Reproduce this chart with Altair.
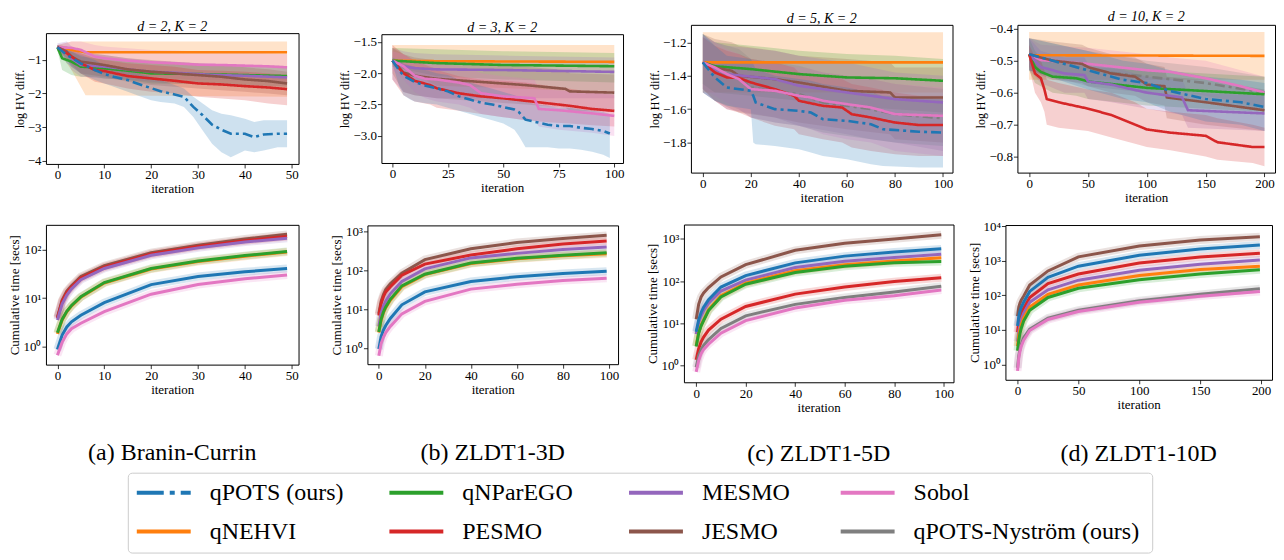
import altair as alt
import pandas as pd

FONT = "Liberation Serif"

METHODS = ["qPOTS (ours)", "qNParEGO", "MESMO", "Sobol",
           "qNEHVI", "PESMO", "JESMO", "qPOTS-Nyström (ours)"]
COLORS = ["#1f77b4", "#2ca02c", "#9467bd", "#e377c2",
          "#ff7f0e", "#d62728", "#8c564b", "#7f7f7f"]
DASHES = [[10, 4, 3, 4], [1, 0], [1, 0], [1, 0], [1, 0], [1, 0], [1, 0], [1, 0]]
BAND_W = [8, 8, 8, 8, 8, 8, 13, 8]
QP, NY = "qPOTS (ours)", "qPOTS-Nyström (ours)"

# ---------------- top row: log HV difference (x, mean, lower, upper) ----------------
HV_A = {
    "qNEHVI": ([0, 3, 6, 49], [-0.62, -0.7, -0.77, -0.77], [-0.7, -1.3, -2.05, -2.1], [-0.55, -0.45, -0.45, -0.45]),
    "Sobol": ([0, 3, 5, 8, 10, 15, 20, 25, 30, 35, 40, 45, 49],
              [-0.62, -0.64, -0.7, -0.9, -0.95, -1.02, -1.07, -1.1, -1.14, -1.15, -1.17, -1.19, -1.22],
              [-0.7, -0.9, -1.1, -1.35, -1.4, -1.45, -1.5, -1.55, -1.6, -1.6, -1.62, -1.65, -1.7],
              [-0.55, -0.45, -0.45, -0.55, -0.6, -0.65, -0.7, -0.72, -0.75, -0.77, -0.78, -0.8, -0.82]),
    "qNParEGO": ([0, 1, 3, 5, 8, 10, 15, 20, 30, 40, 49],
                 [-0.62, -0.95, -1.05, -1.2, -1.22, -1.25, -1.32, -1.4, -1.42, -1.45, -1.48],
                 [-0.7, -1.3, -1.45, -1.5, -1.5, -1.55, -1.6, -1.7, -1.72, -1.75, -1.8],
                 [-0.55, -0.7, -0.75, -0.9, -0.95, -0.98, -1.05, -1.1, -1.12, -1.15, -1.18]),
    "MESMO": ([0, 2, 3, 5, 10, 15, 20, 25, 30, 34, 40, 49],
              [-0.62, -0.75, -0.95, -1.15, -1.2, -1.28, -1.35, -1.38, -1.42, -1.45, -1.47, -1.52],
              [-0.7, -1.0, -1.3, -1.5, -1.55, -1.6, -1.65, -1.7, -1.72, -1.75, -1.77, -1.8],
              [-0.5, -0.45, -0.6, -0.8, -0.85, -0.95, -1.02, -1.05, -1.1, -1.12, -1.15, -1.2]),
    "JESMO": ([0, 2, 3, 5, 10, 15, 20, 25, 30, 35, 40, 45, 49],
              [-0.62, -0.75, -0.9, -1.05, -1.15, -1.28, -1.35, -1.4, -1.45, -1.5, -1.58, -1.63, -1.7],
              [-0.7, -0.95, -1.2, -1.4, -1.5, -1.65, -1.75, -1.8, -1.85, -1.9, -1.95, -2.0, -2.05],
              [-0.55, -0.6, -0.65, -0.75, -0.85, -0.95, -1.0, -1.05, -1.1, -1.15, -1.22, -1.28, -1.35]),
    "PESMO": ([0, 2, 5, 8, 10, 15, 20, 25, 30, 35, 40, 45, 49],
              [-0.62, -0.8, -1.1, -1.3, -1.33, -1.48, -1.55, -1.62, -1.7, -1.73, -1.78, -1.82, -1.87],
              [-0.7, -1.0, -1.4, -1.65, -1.7, -1.85, -1.95, -2.0, -2.1, -2.15, -2.2, -2.3, -2.35],
              [-0.55, -0.6, -0.8, -0.95, -1.0, -1.1, -1.15, -1.2, -1.3, -1.32, -1.35, -1.4, -1.45]),
    "qPOTS (ours)": ([0, 2, 5, 8, 10, 12, 15, 17, 20, 22, 25, 27, 29, 31, 33, 35, 37, 40, 42, 44, 47, 49],
                     [-0.62, -0.85, -1.1, -1.3, -1.42, -1.5, -1.6, -1.7, -1.84, -1.93, -2.03, -2.1, -2.4, -2.65,
                      -2.93, -3.08, -3.2, -3.2, -3.3, -3.22, -3.2, -3.2],
                     [-0.7, -1.1, -1.4, -1.6, -1.7, -1.8, -1.95, -2.05, -2.2, -2.25, -2.3, -2.4, -2.7, -3.1,
                      -3.5, -3.75, -3.9, -3.7, -3.75, -3.7, -3.6, -3.6],
                     [-0.55, -0.7, -0.85, -1.0, -1.15, -1.25, -1.3, -1.4, -1.5, -1.6, -1.75, -1.85, -2.1, -2.3,
                      -2.5, -2.6, -2.65, -2.75, -2.85, -2.8, -2.8, -2.8]),
}

HV_B = {
    "qNEHVI": ([0, 20, 100], [-1.8, -1.81, -1.82], [-1.85, -2.2, -2.3], [-1.55, -1.55, -1.55]),
    "qNParEGO": ([0, 20, 50, 100], [-1.8, -1.84, -1.87, -1.89], [-1.9, -2.05, -2.1, -2.15], [-1.6, -1.62, -1.65, -1.68]),
    "MESMO": ([0, 5, 10, 20, 50, 100], [-1.8, -1.89, -1.92, -1.94, -1.95, -1.98],
              [-2.1, -2.3, -2.35, -2.4, -2.4, -2.4], [-1.6, -1.65, -1.68, -1.7, -1.72, -1.75]),
    "JESMO": ([0, 5, 10, 20, 40, 60, 78, 80, 100],
              [-1.8, -1.99, -2.04, -2.09, -2.14, -2.19, -2.25, -2.29, -2.31],
              [-2.0, -2.3, -2.35, -2.4, -2.45, -2.5, -2.55, -2.6, -2.62],
              [-1.6, -1.7, -1.75, -1.8, -1.85, -1.9, -1.95, -2.0, -2.02]),
    "PESMO": ([0, 5, 10, 17, 20, 30, 40, 50, 60, 70, 80, 90, 100],
              [-1.8, -2.0, -2.12, -2.19, -2.24, -2.32, -2.37, -2.4, -2.44, -2.48, -2.52, -2.57, -2.6],
              [-2.1, -2.35, -2.45, -2.5, -2.55, -2.6, -2.65, -2.7, -2.75, -2.78, -2.8, -2.83, -2.85],
              [-1.55, -1.7, -1.8, -1.9, -1.95, -2.05, -2.1, -2.12, -2.15, -2.2, -2.25, -2.3, -2.33]),
    "Sobol": ([0, 5, 10, 15, 20, 30, 35, 40, 50, 60, 64, 66, 75, 90, 100],
              [-1.8, -1.89, -2.04, -2.09, -2.1, -2.15, -2.19, -2.32, -2.37, -2.39, -2.4, -2.57, -2.59, -2.64, -2.68],
              [-1.95, -2.1, -2.3, -2.4, -2.45, -2.5, -2.55, -2.65, -2.7, -2.75, -2.75, -2.85, -2.9, -2.95, -3.0],
              [-1.65, -1.7, -1.8, -1.85, -1.85, -1.9, -1.92, -2.0, -2.05, -2.08, -2.1, -2.25, -2.28, -2.3, -2.35]),
    "qPOTS (ours)": ([0, 3, 5, 8, 10, 15, 20, 25, 30, 35, 40, 45, 50, 55, 57, 60, 65, 70, 75, 80, 85, 90, 95, 98],
                     [-1.8, -1.95, -2.04, -2.1, -2.14, -2.2, -2.24, -2.29, -2.37, -2.42, -2.47, -2.5, -2.54, -2.58,
                      -2.62, -2.74, -2.78, -2.82, -2.84, -2.84, -2.87, -2.89, -2.92, -2.96],
                     [-1.85, -2.2, -2.35, -2.42, -2.45, -2.48, -2.5, -2.55, -2.6, -2.65, -2.7, -2.75, -2.8, -2.9,
                      -3.0, -3.18, -3.18, -3.18, -3.2, -3.2, -3.22, -3.25, -3.3, -3.35],
                     [-1.75, -1.8, -1.85, -1.88, -1.9, -1.95, -2.0, -2.03, -2.1, -2.15, -2.2, -2.25, -2.3, -2.35,
                      -2.38, -2.45, -2.5, -2.52, -2.55, -2.55, -2.58, -2.6, -2.62, -2.65]),
}

HV_C = {
    "qNEHVI": ([0, 100], [-1.32, -1.32], [-1.5, -1.5], [-1.14, -1.14]),
    "qNParEGO": ([0, 5, 20, 40, 60, 80, 100], [-1.32, -1.343, -1.36, -1.39, -1.41, -1.415, -1.43],
                 [-1.45, -1.5, -1.52, -1.55, -1.58, -1.6, -1.62], [-1.15, -1.2, -1.22, -1.25, -1.27, -1.28, -1.3]),
    "JESMO": ([0, 5, 12, 15, 30, 40, 60, 78, 80, 100],
              [-1.32, -1.35, -1.37, -1.4, -1.42, -1.44, -1.49, -1.5, -1.53, -1.53],
              [-1.5, -1.55, -1.6, -1.62, -1.65, -1.68, -1.72, -1.75, -1.78, -1.8],
              [-1.15, -1.18, -1.2, -1.22, -1.25, -1.28, -1.3, -1.32, -1.35, -1.35]),
    "MESMO": ([0, 5, 10, 30, 40, 60, 70, 80, 100],
              [-1.32, -1.36, -1.39, -1.42, -1.46, -1.5, -1.52, -1.54, -1.56],
              [-1.5, -1.55, -1.6, -1.65, -1.7, -1.75, -1.78, -1.8, -1.85],
              [-1.15, -1.2, -1.22, -1.25, -1.28, -1.32, -1.35, -1.38, -1.4]),
    "PESMO": ([0, 5, 10, 15, 20, 30, 38, 40, 50, 58, 62, 70, 80, 90, 100],
              [-1.32, -1.38, -1.41, -1.413, -1.44, -1.48, -1.52, -1.55, -1.58, -1.59, -1.63, -1.65, -1.68, -1.695, -1.695],
              [-1.48, -1.55, -1.6, -1.62, -1.65, -1.7, -1.72, -1.75, -1.78, -1.8, -1.83, -1.85, -1.87, -1.88, -1.88],
              [-1.17, -1.22, -1.25, -1.27, -1.3, -1.32, -1.35, -1.38, -1.4, -1.42, -1.45, -1.47, -1.5, -1.52, -1.52]),
    "Sobol": ([0, 5, 10, 15, 20, 30, 40, 45, 50, 60, 70, 80, 100],
              [-1.32, -1.35, -1.39, -1.42, -1.48, -1.49, -1.52, -1.53, -1.55, -1.57, -1.59, -1.63, -1.64],
              [-1.48, -1.52, -1.56, -1.6, -1.65, -1.68, -1.7, -1.72, -1.75, -1.78, -1.8, -1.85, -1.88],
              [-1.16, -1.2, -1.24, -1.27, -1.32, -1.33, -1.35, -1.36, -1.38, -1.4, -1.42, -1.45, -1.47]),
    "qPOTS-Nyström (ours)": ([0, 5, 15, 20, 30, 40, 50, 60, 70, 80, 100],
                             [-1.32, -1.38, -1.41, -1.47, -1.49, -1.51, -1.56, -1.58, -1.6, -1.63, -1.655],
                             [-1.48, -1.55, -1.6, -1.65, -1.68, -1.7, -1.74, -1.76, -1.78, -1.8, -1.82],
                             [-1.17, -1.2, -1.24, -1.3, -1.32, -1.34, -1.38, -1.4, -1.42, -1.45, -1.48]),
    "qPOTS (ours)": ([0, 5, 10, 20, 21, 22, 30, 40, 45, 50, 60, 70, 75, 90, 100],
                     [-1.32, -1.41, -1.47, -1.49, -1.52, -1.56, -1.6, -1.61, -1.62, -1.66, -1.67, -1.69, -1.72, -1.735, -1.74],
                     [-1.5, -1.55, -1.58, -1.6, -1.8, -1.81, -1.82, -1.84, -1.86, -1.88, -1.9, -1.93, -1.94, -1.95, -1.95],
                     [-1.15, -1.22, -1.28, -1.3, -1.33, -1.36, -1.4, -1.42, -1.43, -1.45, -1.47, -1.5, -1.52, -1.53, -1.54]),
}

HV_D = {
    "qNEHVI": ([0, 200], [-0.483, -0.485], [-0.56, -0.56], [-0.41, -0.41]),
    "Sobol": ([0, 10, 50, 100, 120, 150, 180, 200],
              [-0.48, -0.498, -0.51, -0.53, -0.535, -0.555, -0.58, -0.6],
              [-0.52, -0.54, -0.56, -0.58, -0.59, -0.61, -0.63, -0.65],
              [-0.43, -0.45, -0.46, -0.48, -0.49, -0.5, -0.53, -0.55]),
    "qNParEGO": ([0, 5, 10, 20, 40, 50, 100, 150, 200],
                 [-0.48, -0.52, -0.535, -0.55, -0.555, -0.565, -0.585, -0.595, -0.605],
                 [-0.53, -0.57, -0.58, -0.6, -0.61, -0.62, -0.64, -0.65, -0.66],
                 [-0.43, -0.47, -0.49, -0.5, -0.51, -0.52, -0.53, -0.54, -0.55]),
    "qPOTS-Nyström (ours)": ([0, 50, 100, 150, 200], [-0.48, -0.53, -0.55, -0.57, -0.6],
                             [-0.53, -0.58, -0.6, -0.63, -0.66], [-0.43, -0.47, -0.5, -0.52, -0.55]),
    "JESMO": ([0, 20, 45, 50, 70, 90, 100, 115, 117, 150, 200],
              [-0.48, -0.5, -0.51, -0.52, -0.54, -0.55, -0.575, -0.58, -0.615, -0.63, -0.655],
              [-0.53, -0.56, -0.57, -0.58, -0.6, -0.61, -0.63, -0.64, -0.68, -0.7, -0.72],
              [-0.43, -0.44, -0.45, -0.46, -0.48, -0.49, -0.51, -0.52, -0.55, -0.56, -0.59]),
    "MESMO": ([0, 10, 30, 47, 50, 70, 100, 130, 135, 200],
              [-0.48, -0.52, -0.54, -0.545, -0.565, -0.575, -0.6, -0.615, -0.655, -0.665],
              [-0.53, -0.57, -0.6, -0.6, -0.62, -0.63, -0.65, -0.67, -0.71, -0.72],
              [-0.43, -0.47, -0.49, -0.49, -0.51, -0.52, -0.55, -0.56, -0.6, -0.61]),
    "PESMO": ([0, 5, 10, 13, 15, 25, 50, 70, 90, 100, 120, 150, 160, 190, 200],
              [-0.48, -0.54, -0.555, -0.59, -0.62, -0.63, -0.65, -0.67, -0.7, -0.715, -0.725, -0.735, -0.755, -0.77, -0.77],
              [-0.52, -0.6, -0.63, -0.66, -0.7, -0.71, -0.72, -0.74, -0.76, -0.77, -0.78, -0.8, -0.81, -0.82, -0.83],
              [-0.45, -0.49, -0.5, -0.53, -0.56, -0.57, -0.59, -0.6, -0.63, -0.65, -0.66, -0.67, -0.68, -0.7, -0.71]),
    "qPOTS (ours)": ([0, 50, 80, 100, 120, 150, 180, 200],
                     [-0.48, -0.53, -0.56, -0.57, -0.595, -0.62, -0.63, -0.645],
                     [-0.53, -0.59, -0.62, -0.63, -0.66, -0.69, -0.7, -0.72],
                     [-0.43, -0.47, -0.5, -0.51, -0.53, -0.55, -0.56, -0.57]),
}

# ---------------- bottom row: cumulative time [secs] ----------------
IT_A = [0, 1, 2, 3, 5, 10, 20, 30, 40, 49]
TIME_A = {
    "JESMO": [4.0, 9, 14, 18, 28, 47, 87, 125, 168, 210],
    "PESMO": [3.8, 8.5, 13, 17, 26, 44, 82, 118, 155, 190],
    "MESMO": [3.5, 7.5, 11.5, 15.5, 24, 41, 77, 110, 145, 175],
    "qNEHVI": [1.8, 3.5, 5.2, 6.8, 10.4, 20.5, 40, 57, 74, 90],
    "qNParEGO": [1.9, 3.6, 5.3, 7.0, 10.6, 21, 41, 59, 76, 93],
    "qPOTS (ours)": [0.85, 1.7, 2.5, 3.2, 4.4, 8, 19, 28, 35, 41],
    "Sobol": [0.65, 1.2, 1.8, 2.3, 3.0, 5.2, 12, 19, 25, 30],
}
IT_B = [0, 1, 2, 3, 5, 10, 20, 40, 60, 80, 99]
TIME_B = {
    "JESMO": [7.6, 16, 24, 32, 45, 85, 190, 360, 525, 660, 800],
    "PESMO": [6.9, 14, 21, 28, 38, 75, 145, 250, 360, 480, 575],
    "MESMO": [3.6, 8, 12, 16, 25, 52, 110, 210, 275, 345, 400],
    "qNEHVI": [2.5, 5.3, 8.2, 11, 17, 38, 78, 150, 200, 240, 270],
    "qNParEGO": [2.6, 5.5, 8.5, 11.5, 18, 40, 80, 155, 205, 245, 285],
    "qPOTS (ours)": [0.95, 2.0, 2.9, 3.8, 5.8, 13, 28, 52, 69, 83, 95],
    "Sobol": [0.63, 1.3, 1.9, 2.5, 3.6, 7.6, 16, 33, 44, 55, 63],
}
IT_C = [0, 1, 2, 3, 5, 10, 20, 40, 60, 80, 99]
TIME_C = {
    "JESMO": [12.5, 28, 42, 52, 70, 125, 245, 535, 790, 1000, 1250],
    "MESMO": [5.5, 10.5, 15, 20, 30, 58, 105, 210, 295, 360, 430],
    "qNEHVI": [2.9, 6, 9, 12, 21, 45, 89, 175, 245, 300, 355],
    "qNParEGO": [2.8, 5.8, 8.7, 11.5, 20, 42, 84, 160, 225, 270, 290],
    "PESMO": [1.35, 2.5, 3.6, 4.7, 6.9, 12.5, 25, 49, 72, 97, 120],
    "qPOTS-Nyström (ours)": [0.9, 1.7, 2.4, 3.0, 4.1, 7.5, 15, 28, 41, 55, 75],
    "Sobol": [0.7, 1.3, 1.9, 2.4, 3.2, 5.8, 11.5, 23, 35, 45, 61],
    "qPOTS (ours)": [6.3, 12, 18, 24, 36, 72, 135, 270, 390, 490, 580],
}
IT_D = [0, 1, 2, 3, 5, 10, 25, 50, 100, 150, 199]
TIME_D = {
    "JESMO": [25, 45, 60, 72, 95, 200, 510, 1300, 2700, 4000, 5000],
    "PESMO": [8.6, 17, 24, 30, 42, 87, 220, 415, 870, 1300, 1650],
    "MESMO": [4.6, 9, 14, 19, 30, 63, 145, 275, 535, 800, 1050],
    "qNEHVI": [3.4, 7, 10, 14, 22, 46, 107, 200, 375, 565, 700],
    "qNParEGO": [2.5, 5, 8, 11, 18, 37, 87, 160, 285, 415, 550],
    "qPOTS-Nyström (ours)": [0.8, 1.8, 2.8, 3.8, 6.0, 10.6, 22, 37, 70, 107, 155],
    "Sobol": [0.65, 1.5, 2.4, 3.3, 5.0, 9.6, 20, 34, 63, 95, 130],
    "qPOTS (ours)": [13, 25, 35, 45, 63, 130, 335, 700, 1450, 2200, 2850],
}

CAPTIONS = ["(a) Branin-Currin", "(b) ZLDT1-3D", "(c) ZLDT1-5D", "(d) ZLDT1-10D"]
TITLES = ["d = 2, K = 2", "d = 3, K = 2", "d = 5, K = 2", "d = 10, K = 2"]

COLOR_SCALE = alt.Scale(domain=METHODS, range=COLORS)
DASH_SCALE = alt.Scale(domain=METHODS, range=DASHES)
COLOR = alt.Color("method:N", scale=COLOR_SCALE, legend=None)


def hv_frame(d):
    rows = []
    for m, (xs, ms, los, his) in d.items():
        for x, v, lo, hi in zip(xs, ms, los, his):
            rows.append({"iter": x, "method": m, "mean": v, "lo": lo, "hi": hi})
    return pd.DataFrame(rows)


def time_frame(its, d):
    rows = []
    for m, vals in d.items():
        for x, v in zip(its, vals):
            rows.append({"iter": x, "method": m, "t": v})
    return pd.DataFrame(rows)


def top_chart(d, title, xdom, ydom, xt, yt, yfmt, w, h):
    df = hv_frame(d)
    xs = alt.Scale(domain=xdom, nice=False, zero=False)
    ys = alt.Scale(domain=ydom, nice=False, zero=False)
    xa = alt.Axis(values=xt, format="d", title="iteration")
    ya = alt.Axis(values=yt, format=yfmt, title="log HV diff.", titleFontSize=12)
    band = alt.Chart(df).mark_area(fillOpacity=0.22, strokeWidth=0, clip=True).encode(
        x=alt.X("iter:Q", scale=xs, axis=xa),
        y=alt.Y("lo:Q", scale=ys, axis=ya),
        y2="hi:Q",
        fill=alt.Fill("method:N", scale=COLOR_SCALE, legend=None),
    )
    main = df[~df["method"].isin([NY])]
    lines = alt.Chart(main).mark_line(strokeWidth=2.6, clip=True).encode(
        x=alt.X("iter:Q", scale=xs, axis=xa),
        y=alt.Y("mean:Q", scale=ys, axis=ya),
        color=COLOR,
        strokeDash=alt.StrokeDash("method:N", scale=DASH_SCALE, legend=None),
    )
    layers = [band]
    nys = df[df["method"] == NY]
    if len(nys):
        layers.append(alt.Chart(nys).mark_line(strokeWidth=2.6, strokeDash=[10, 4, 3, 4], clip=True,
                                               color="#7f7f7f").encode(
            x=alt.X("iter:Q", scale=xs, axis=xa),
            y=alt.Y("mean:Q", scale=ys, axis=ya)))
    layers.append(lines)
    return alt.layer(*layers).properties(
        width=w, height=h,
        title=alt.TitleParams(title, font=FONT, fontSize=14, fontStyle="italic", fontWeight="normal",
                              offset=-1, color="black"))


LOGLBL = ("datum.value < 5 ? '10⁰' : datum.value < 50 ? '10¹' : datum.value < 500 ? '10²' : "
          "datum.value < 5000 ? '10³' : '10⁴'")


def bottom_chart(its, d, caption, xdom, ydom, xt, yt, w, h, off):
    df = time_frame(its, d)
    xs = alt.Scale(domain=xdom, nice=False, zero=False)
    ys = alt.Scale(type="log", domain=ydom, nice=False)
    xa = alt.Axis(values=xt, format="d", title="iteration")
    ya = alt.Axis(values=yt, labelExpr=LOGLBL, title="Cumulative time [secs]")
    band = alt.Chart(df).mark_line(opacity=0.18, clip=True).encode(
        x=alt.X("iter:Q", scale=xs, axis=xa),
        y=alt.Y("t:Q", scale=ys, axis=ya),
        stroke=alt.Stroke("method:N", scale=COLOR_SCALE, legend=None),
        size=alt.Size("method:N", scale=alt.Scale(domain=METHODS, range=BAND_W), legend=None),
    )
    lines = alt.Chart(df).mark_line(strokeWidth=3, clip=True).encode(
        x=alt.X("iter:Q", scale=xs, axis=xa),
        y=alt.Y("t:Q", scale=ys, axis=ya),
        color=COLOR,
    )
    return alt.layer(band, lines).properties(
        width=w, height=h,
        title=alt.TitleParams(caption, orient="bottom", font=FONT, fontSize=24, fontWeight="normal",
                              offset=off, color="black"))


# ---------------- legend panel (4 columns x 2 rows, column-major like the reference) ----------------
leg_df = pd.DataFrame({"method": METHODS,
                       "col": [i % 4 for i in range(len(METHODS))],
                       "row": [i // 4 for i in range(len(METHODS))]})
LX = alt.X("col:Q", scale=alt.Scale(domain=[0, 1, 2, 3], range=[36, 289, 529, 741]), axis=None)
LY = alt.Y("row:Q", scale=alt.Scale(domain=[0, 1], range=[20, 59]), axis=None)
leg_solid = alt.Chart(leg_df[leg_df["method"] != QP]).mark_rule(strokeWidth=4, xOffset=-27, x2Offset=27).encode(
    x=LX, x2="col:Q", y=LY, color=COLOR)
leg_dash = alt.Chart(leg_df[leg_df["method"] == QP]).mark_rule(
    strokeWidth=4, xOffset=-27, x2Offset=27, strokeDash=[27, 6, 5, 6]).encode(
    x=LX, x2="col:Q", y=LY, color=COLOR)
leg_text = alt.Chart(leg_df).mark_text(align="left", baseline="middle", dx=46, font=FONT, fontSize=24,
                                       color="black").encode(x=LX, y=LY, text="method:N")
legend_panel = alt.layer(leg_solid, leg_dash, leg_text).properties(
    width=1026, height=80,
    view=alt.ViewBackground(stroke="#cccccc", strokeWidth=1, cornerRadius=4))
spacer = alt.Chart(leg_df).mark_point(opacity=0).encode(
    x=alt.value(0), y=alt.value(0)).properties(
    width=1, height=1, view=alt.ViewBackground(strokeOpacity=0))
legend_row = alt.hconcat(spacer, legend_panel, spacing=78)

tA = top_chart(HV_A, TITLES[0], [-2.45, 51.45], [-4.1, -0.2], [0, 10, 20, 30, 40, 50], [-4, -3, -2, -1], "d", 253, 131)
tB = top_chart(HV_B, TITLES[1], [-4.95, 103.95], [-3.43, -1.38], [0, 25, 50, 75, 100], [-3.0, -2.5, -2.0, -1.5], ".1f", 242, 129)
tC = top_chart(HV_C, TITLES[2], [-4.95, 103.95], [-1.98, -1.095], [0, 20, 40, 60, 80, 100], [-1.8, -1.6, -1.4, -1.2], ".1f", 262, 148)
tD = top_chart(HV_D, TITLES[3], [-9.95, 208.95], [-0.85, -0.388], [0, 50, 100, 150, 200], [-0.8, -0.7, -0.6, -0.5, -0.4], ".1f", 258, 148)

bA = bottom_chart(IT_A, TIME_A, CAPTIONS[0], [-2.45, 51.45], [0.414, 331], [0, 10, 20, 30, 40, 50], [1, 10, 100], 253, 140, 45)
bB = bottom_chart(IT_B, TIME_B, CAPTIONS[1], [-4.95, 103.95], [0.384, 1445], [0, 20, 40, 60, 80, 100], [1, 10, 100, 1000], 251, 139, 45)
bC = bottom_chart(IT_C, TIME_C, CAPTIONS[2], [-4.95, 103.95], [0.398, 2190], [0, 20, 40, 60, 80, 100], [1, 10, 100, 1000], 270, 158, 28)
bD = bottom_chart(IT_D, TIME_D, CAPTIONS[3], [-9.95, 208.95], [0.36, 10870], [0, 50, 100, 150, 200], [1, 10, 100, 1000, 10000], 267, 155, 30)

top_row = alt.hconcat(tA, alt.hconcat(tB, alt.hconcat(tC, tD, spacing=20, center=True),
                                      spacing=22, center=True),
                      spacing=38, center=True)
bot_row = alt.hconcat(bA, alt.hconcat(bB, alt.hconcat(bC, bD, spacing=13, center=True),
                                      spacing=26, center=True),
                      spacing=30, center=True)

plots = alt.vconcat(top_row, bot_row, spacing=14)
chart = alt.vconcat(plots, legend_row, spacing=3).properties(
    padding={"left": 0, "top": 0, "right": 0, "bottom": 0}
).configure_view(stroke="black", strokeWidth=1).configure_axis(
    domain=False, grid=False, tickColor="black", tickSize=4, tickWidth=0.8,
    labelFont=FONT, labelFontSize=13, labelColor="black", labelPadding=1,
    titleFont=FONT, titleFontSize=13, titleFontWeight="normal", titleColor="black", titlePadding=1,
)

chart.save("out.html", embed_options={"renderer": "svg", "actions": False})
